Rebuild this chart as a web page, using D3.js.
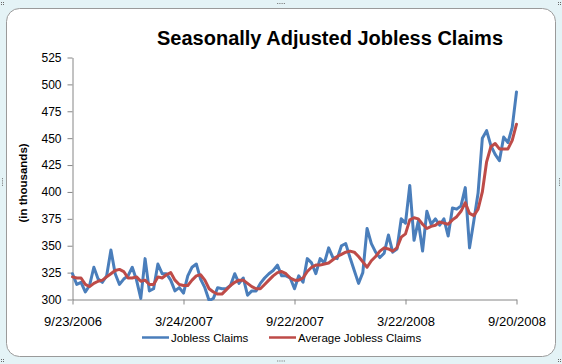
<!DOCTYPE html>
<html><head><meta charset="utf-8">
<script src="https://cdn.jsdelivr.net/npm/d3@7"></script>
<style>html,body{margin:0;padding:0;background:#fff;} svg{display:block}</style>
</head><body>
<svg id="c" width="562" height="364"></svg>
<script>
const chartTitle = "Seasonally Adjusted Jobless Claims";
const yAxisTitle = "(in thousands)";
const seriesNames = ["Jobless Claims", "Average Jobless Claims"];
const firstWeek = "2006-09-23";
const xTickLabels = ["9/23/2006", "3/24/2007", "9/22/2007", "3/22/2008", "9/20/2008"];
const yTicks = [300, 325, 350, 375, 400, 425, 450, 475, 500, 525];

const joblessClaims = [
  324, 314, 316, 307, 313, 330, 319, 316, 322, 346,
  324, 314, 319, 322, 330, 318, 301, 338, 308, 310,
  333, 324, 324, 318, 308, 311, 306, 322, 330, 333,
  319, 311, 299, 301, 311, 310, 310, 313, 324, 315,
  320, 304, 308, 308, 315, 320, 324, 327, 332, 322,
  322, 320, 310, 322, 316, 338, 334, 324, 338, 334,
  348, 339, 338, 350, 352, 339, 327, 315, 325, 366,
  352, 344, 339, 343, 360, 344, 347, 375, 371, 406,
  355, 373, 345, 382, 370, 375, 369, 375, 359, 385,
  384, 387, 404, 348, 373, 399, 450, 457, 443, 435,
  429, 451, 446, 460, 493
];
const averageClaims = [
  321, 320, 320, 314, 312, 315, 317, 318, 321, 324,
  327, 328, 326, 320, 320, 321, 317, 318, 314, 314,
  321, 320, 323, 325, 318, 314, 313, 313, 318, 322,
  323, 318, 310, 307, 305, 305, 309, 313, 316, 318,
  318, 315, 312, 310, 310, 314, 318, 322, 325, 326,
  324, 320, 318, 318, 320, 326, 330, 332, 332, 333,
  334, 337, 340, 342, 344, 345, 344, 340, 335, 330,
  336, 340, 345, 348, 347, 345, 348, 358, 361, 374,
  376, 375, 370, 366, 368, 369, 372, 371, 370, 374,
  377, 382, 390, 380, 378, 384, 400, 428, 442, 445,
  440, 440, 440, 448, 463
];

const svg = d3.select("#c");
const W = 562, H = 364;
const font = "'Liberation Sans', Arial, sans-serif";

// frame
svg.append("rect").attr("x", 0).attr("y", 0).attr("width", W).attr("height", H).attr("fill", "#e4f3f6");
svg.append("rect").attr("x", 6.5).attr("y", 8.5).attr("width", 549).attr("height", 348)
  .attr("rx", 13).attr("ry", 13).attr("fill", "#ffffff").attr("stroke", "#9a9a9a").attr("stroke-width", 1);
// handles
const handleDots = (cx, cy, vertical) => {
  for (let k = -1.5; k <= 1.5; k++) {
    svg.append("rect").attr("x", vertical ? cx - 0.5 : cx + k * 2.2 - 0.5)
      .attr("y", vertical ? cy + k * 2.2 - 0.5 : cy - 0.5)
      .attr("width", 1).attr("height", 1).attr("fill", "#6a6a6a");
  }
};
handleDots(281, 3.5, false);
handleDots(281, 361, false);
handleDots(2.5, 182, true);
handleDots(559.5, 182, true);
[[2, 3], [559, 3], [2, 360], [559, 360]].forEach(([cx, cy]) => {
  [[0, 0], [2, 0], [0, 2], [2, 2]].forEach(([dx, dy]) =>
    svg.append("rect").attr("x", cx + dx - 1).attr("y", cy + dy - 1).attr("width", 1).attr("height", 1).attr("fill", "#6a6a6a"));
});

const parse = d3.timeParse("%Y-%m-%d");
const start = parse(firstWeek);
const dates = joblessClaims.map((_, i) => d3.timeWeek.offset(start, i));
const tickDates = xTickLabels.map(d3.timeParse("%m/%d/%Y"));

const x = d3.scaleTime().domain([dates[0], dates[dates.length - 1]]).range([72.5, 516.5]);
const y = d3.scaleLinear().domain([300, 525]).range([299.5, 57.5]);

// title
svg.append("text").attr("x", 330).attr("y", 44.5).attr("text-anchor", "middle")
  .attr("font-family", font).attr("font-weight", "bold").attr("font-size", 19.5)
  .attr("textLength", 346).attr("lengthAdjust", "spacingAndGlyphs")
  .attr("fill", "#000").text(chartTitle);

// y axis
const gy = svg.append("g").attr("transform", "translate(72.5,0)")
  .call(d3.axisLeft(y).tickValues(yTicks).tickSizeInner(5).tickSizeOuter(0).tickPadding(6));
gy.selectAll("path,line").attr("stroke", "#868686");
gy.selectAll("text").attr("font-family", font).attr("font-size", 12).attr("fill", "#000");

// x axis
const gx = svg.append("g").attr("transform", "translate(0,299.5)")
  .call(d3.axisBottom(x).tickValues(tickDates).tickFormat(d3.timeFormat("%-m/%-d/%Y"))
    .tickSizeInner(5).tickSizeOuter(0).tickPadding(12));
gx.selectAll("path,line").attr("stroke", "#868686");
gx.selectAll("text").attr("font-family", font).attr("font-size", 13).attr("fill", "#000");

// y axis title
svg.append("text").attr("transform", "translate(27,183) rotate(-90)").attr("text-anchor", "middle")
  .attr("font-family", font).attr("font-weight", "bold").attr("font-size", 11.5).attr("fill", "#000")
  .text(yAxisTitle);

// lines
const colors = ["#4a7ebb", "#be4b48"];
const line = d3.line().x((d, i) => x(dates[i])).y(d => y(d));
svg.append("clipPath").attr("id", "clip").append("rect")
  .attr("x", 60).attr("y", 50).attr("width", 470).attr("height", 251);
[joblessClaims, averageClaims].forEach((s, k) => {
  svg.append("path").datum(s).attr("d", line).attr("fill", "none")
    .attr("stroke", colors[k]).attr("stroke-width", 3).attr("stroke-linejoin", "round")
    .attr("stroke-linecap", "round").attr("clip-path", "url(#clip)");
});

// legend
const legendItems = [{ x: 142, name: seriesNames[0], c: colors[0] }, { x: 269, name: seriesNames[1], c: colors[1] }];
legendItems.forEach(it => {
  svg.append("line").attr("x1", it.x).attr("x2", it.x + 27).attr("y1", 337.5).attr("y2", 337.5)
    .attr("stroke", it.c).attr("stroke-width", 2.5);
  svg.append("text").attr("x", it.x + 29).attr("y", 341.5).attr("font-family", font).attr("font-size", 11.5)
    .attr("fill", "#000").text(it.name);
});
</script>
</body></html>
